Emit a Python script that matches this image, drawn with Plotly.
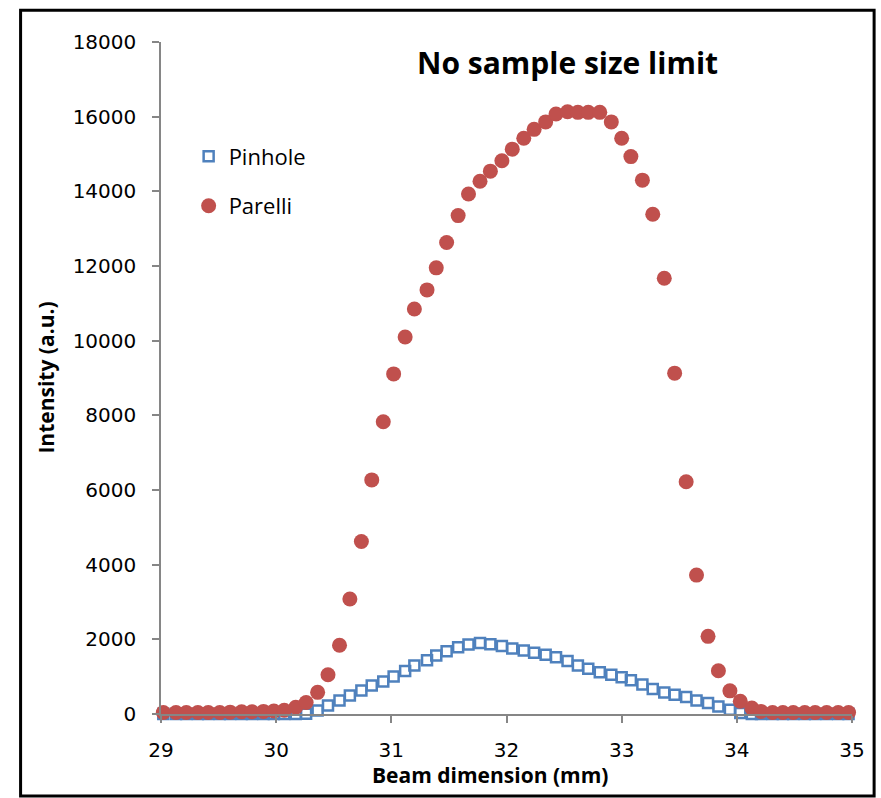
import plotly.graph_objects as go

# Beam position (mm)
beam_mm = [29.02, 29.13, 29.22, 29.32, 29.41, 29.51, 29.60, 29.70, 29.79, 29.89,
           29.98, 30.07, 30.17, 30.26, 30.36, 30.45, 30.55, 30.64, 30.74, 30.83,
           30.93, 31.02, 31.12, 31.20, 31.31, 31.39, 31.48, 31.58, 31.67, 31.77,
           31.86, 31.96, 32.05, 32.15, 32.24, 32.34, 32.43, 32.53, 32.62, 32.71,
           32.81, 32.91, 33.00, 33.08, 33.18, 33.27, 33.37, 33.46, 33.56, 33.65,
           33.75, 33.84, 33.94, 34.03, 34.13, 34.21, 34.31, 34.40, 34.49, 34.59,
           34.68, 34.78, 34.88, 34.97]

pinhole = [0, 0, 0, 0, 0, 0, 0, 0, 0, 0,
           0, 0, 0, 10, 96, 230, 364, 498, 632, 766,
           873, 1007, 1150, 1300, 1440, 1565, 1680, 1790, 1860, 1900,
           1870, 1820, 1755, 1703, 1640, 1588, 1520, 1420, 1300, 1210,
           1120, 1050, 985, 905, 790, 669, 578, 517, 455, 364,
           294, 203, 115, 27, 0, 0, 0, 0, 0, 0,
           0, 0, 0, 0]

parelli = [40, 40, 40, 40, 40, 40, 50, 60, 60, 70,
           80, 100, 180, 310, 580, 1050, 1840, 3080, 4620, 6270,
           7830, 9110, 10100, 10850, 11360, 11950, 12630, 13350, 13930, 14270,
           14540, 14820, 15130, 15420, 15660, 15860, 16070, 16130, 16115, 16115,
           16115, 15860, 15420, 14930, 14300, 13385, 11670, 9130, 6220, 3720,
           2080, 1160, 620, 340, 160, 70, 40, 40, 40, 40,
           40, 40, 40, 40]

x_ticks = [29, 30, 31, 32, 33, 34, 35]
y_ticks = [0, 2000, 4000, 6000, 8000, 10000, 12000, 14000, 16000, 18000]

FONT = "Open Sans"
TICKFONT = "DejaVu Sans"

fig = go.Figure()
fig.add_trace(go.Scatter(
    x=beam_mm, y=pinhole, mode="markers", name="Pinhole",
    legendgroup="a", cliponaxis=False,
    marker=dict(symbol="square-open", size=10, color="#4F81BD",
                line=dict(width=2.5, color="#4F81BD")),
))
fig.add_trace(go.Scatter(
    x=beam_mm, y=parelli, mode="markers", name="Parelli",
    legendgroup="b", cliponaxis=False,
    marker=dict(symbol="circle", size=15, color="#C0504D",
                line=dict(width=0)),
))

fig.update_layout(
    width=881, height=798,
    margin=dict(l=160.5, r=29, t=41.7, b=83.7),
    paper_bgcolor="white", plot_bgcolor="white",
    font=dict(family=FONT, size=20, color="black"),
    showlegend=True,
    legend=dict(x=0.04, y=0.861, xanchor="left", yanchor="top",
                bgcolor="rgba(0,0,0,0)", traceorder="grouped",
                tracegroupgap=18, font=dict(family=FONT, size=22)),
    xaxis=dict(range=[29, 35], tickvals=x_ticks, ticktext=[str(v) for v in x_ticks],
               showgrid=False, zeroline=False, showline=True,
               linecolor="#868686", linewidth=1.5,
               ticks="outside", ticklen=7, tickcolor="#868686", tickwidth=1.5,
               ticklabelstandoff=10,
               tickfont=dict(family=TICKFONT, size=20)),
    yaxis=dict(range=[0, 18000], tickvals=y_ticks, ticktext=[str(v) for v in y_ticks],
               showgrid=False, zeroline=False, showline=True,
               linecolor="#868686", linewidth=1.5,
               ticks="outside", ticklen=7, tickcolor="#868686", tickwidth=1.5,
               ticklabelstandoff=12,
               tickfont=dict(family=TICKFONT, size=20)),
    annotations=[
        dict(text="<b>No sample size limit</b>", xref="paper", yref="paper",
             x=0.588, y=0.970, xanchor="center", yanchor="middle",
             showarrow=False, font=dict(family=FONT, size=30, color="black")),
        dict(text="<b>Beam dimension (mm)</b>", xref="paper", yref="paper",
             x=(490 - 160.5) / 691.5, y=(714.3 - 775) / 672.6,
             xanchor="center", yanchor="middle",
             showarrow=False, font=dict(family=FONT, size=21, color="black")),
        dict(text="<b>Intensity (a.u.)</b>", xref="paper", yref="paper",
             x=(45 - 160.5) / 691.5, y=0.5, textangle=-90,
             xanchor="center", yanchor="middle",
             showarrow=False, font=dict(family=FONT, size=21, color="black")),
    ],
    shapes=[dict(type="rect", xref="paper", yref="paper",
                 x0=-0.2032, x1=1.0320, y0=-0.122, y1=1.0472,
                 line=dict(color="black", width=3), fillcolor="rgba(0,0,0,0)")],
)

fig.write_html("out.html")
